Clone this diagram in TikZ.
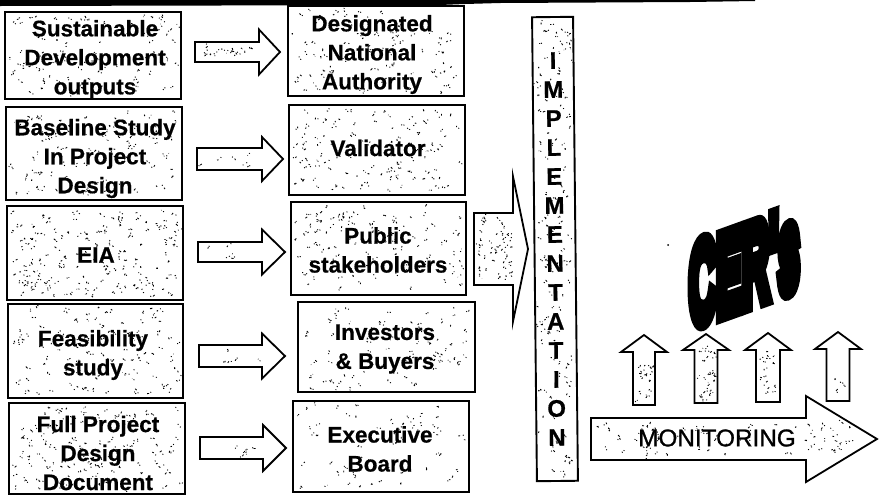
\documentclass[tikz,border=0pt]{standalone}
\usepackage{fontspec}
\usepackage{graphicx}
\setmainfont{Liberation Sans}
\newfontfamily\blobfont[FakeBold=16]{Liberation Sans Bold}
\newfontfamily\monfont[FakeBold=1]{Liberation Sans}
\newfontfamily\lblfont[FakeBold=0.6]{Liberation Sans Bold}
\tikzset{
  boxnode/.style={draw=black,line width=1.9pt,inner sep=0pt,outer sep=0pt},
  labelnode/.style={inner sep=0pt,outer sep=0pt,align=center,font=\lblfont\fontsize{22.5}{29}\selectfont},
  blockarrow/.style={draw=black,line width=1.8pt,line join=miter,miter limit=10},
  speck/.style={line width=0.85pt,black}
}
\newcommand\speckle[5]{%
  \foreach \k in {1,...,#5}{%
    \pgfmathsetmacro\sx{#1+rnd*(#3-(#1))}%
    \pgfmathsetmacro\sy{#2+rnd*(#4-(#2))}%
    \pgfmathsetmacro\dx{rand*1.8}%
    \pgfmathsetmacro\dy{rand*1.8}%
    \pgfmathsetmacro\ex{rand*3}%
    \pgfmathsetmacro\ey{rand*3}%
    \draw[speck] (\sx,\sy) -- ++(\dx,\dy) ++(\ex,\ey) -- ++(.9,.5);%
  }}
% name, x1,y1,x2,y2, speckle count
\newcommand\specbox[6]{%
  \speckle{#2+4}{#3+4}{#4-4}{#5-4}{#6}%
  \pgfmathsetmacro\bw{#4-(#2)}\pgfmathsetmacro\bh{#5-(#3)}%
  \node[boxnode,minimum width=\bw pt,minimum height=\bh pt] (#1) at ({(#2+#4)/2},{(#3+#5)/2}) {};}
% horizontal block arrow: tail x, centre y, head base x, tip x, shaft half-width, head half-width
\newcommand\harrow[6]{%
  \draw[blockarrow] (#1,#2-#5) -- (#3,#2-#5) -- (#3,#2-#6) -- (#4,#2) -- (#3,#2+#6) -- (#3,#2+#5) -- (#1,#2+#5) -- cycle;}
% up block arrow: centre x, tail y, head base y, tip y, shaft half-width, head half-width
\newcommand\uarrow[6]{%
  \draw[blockarrow] (#1-#5,#2) -- (#1-#5,#3) -- (#1-#6,#3) -- (#1,#4) -- (#1+#6,#3) -- (#1+#5,#3) -- (#1+#5,#2) -- cycle;}
\begin{document}
\begin{tikzpicture}[x=1pt,y=-1pt]
\pgfmathsetseed{4242}
\useasboundingbox (0,0) rectangle (884,496);
\fill[white] (0,0) rectangle (884,496);
\fill[black] (0,0) -- (755,0) -- (755,1) -- (690,2) -- (500,3) -- (465,4) -- (440,5) -- (0,6) -- cycle;

% left column
\specbox{L1}{5}{12}{181}{99}{95}
\specbox{L2}{6}{107}{182}{200}{95}
\specbox{L3}{7}{206}{183}{300}{170}
\specbox{L4}{8}{304}{183}{398}{110}
\specbox{L5}{9}{403}{185}{494}{135}
\node[labelnode] (L1t) at (95,59.5) {Sustainable\\Development\\outputs};
\node[labelnode] (L2t) at (95,158.5) {Baseline Study\\In Project\\Design};
\node[labelnode] (L3t) at (96,255) {EIA};
\node[labelnode] (L4t) at (93,355) {Feasibility\\study};
\node[labelnode] (L5t) at (98,453) {Full Project\\Design\\Document};

% right column
\specbox{R1}{288}{6}{464}{96}{95}
\specbox{R2}{289}{105}{465}{195}{115}
\specbox{R3}{291}{202}{466}{295}{115}
\specbox{R4}{298}{302}{475}{392}{80}
\specbox{R5}{293}{401}{469}{492}{60}
\node[labelnode] (R1t) at (372,54.5) {Designated\\National\\Authority};
\node[labelnode] (R2t) at (378,148) {Validator};
\node[labelnode] (R3t) at (378,250) {Public\\stakeholders};
\node[labelnode] (R4t) at (385,349) {Investors\\\& Buyers};
\node[labelnode] (R5t) at (380,449) {Executive\\Board};

% small block arrows
\speckle{199}{46}{258}{58}{18}
\speckle{201}{152}{261}{166}{6}
\speckle{202}{246}{261}{258}{5}
\speckle{203}{349}{261}{363}{5}
\speckle{204}{441}{262}{455}{6}
\harrow{195}{52}{259}{280}{10}{22.5}
\harrow{197}{159}{262}{283}{11}{22}
\harrow{198}{252}{262}{285}{10}{22.5}
\harrow{199}{356}{262}{285}{11}{22.5}
\harrow{200}{448}{263}{286}{11}{23}

% large arrow to the implementation bar
\speckle{478}{218}{513}{280}{45}
\harrow{474}{249}{513}{528}{36}{72.5}

% implementation bar
\speckle{538}{22}{572}{476}{130}
\node[boxnode,rotate=0.6,minimum width=41pt,minimum height=464pt,align=center,font=\lblfont\fontsize{24}{29}\selectfont] (Impl) at (555,249) {I\\M\\P\\L\\E\\M\\E\\N\\T\\A\\T\\I\\O\\N};

% up arrows
\speckle{637}{365}{652}{402}{16}
\speckle{699}{345}{715}{400}{26}
\speckle{760}{350}{777}{398}{15}
\speckle{832}{375}{846}{396}{4}
\uarrow{644}{405}{352}{335}{11}{23}
\uarrow{706}{403}{350}{334}{11.5}{23}
\uarrow{768}{402}{350}{333}{12}{23}
\uarrow{838}{401}{349}{332}{11.5}{23}

% monitoring arrow
\speckle{596}{423}{805}{455}{45}
\speckle{806}{420}{850}{450}{22}
\harrow{591}{439}{806}{877}{21}{43}
\node[inner sep=0pt,outer sep=0pt,font=\monfont\fontsize{24.3}{29}\selectfont] (Mont) at (717,438) {MONITORING};

% CER's
\begin{scope}[shift={(689,326)},yslant=0.36]
\node[transform shape,anchor=base west,inner sep=0pt,outer sep=0pt,font=\blobfont\fontsize{100}{100}\selectfont] (Cer) at (0,0)
 {\scalebox{.38}[1.14]{C}\scalebox{.38}[1.12]{E}\scalebox{.38}[1.12]{R}\scalebox{.38}[1.15]{'}\scalebox{.38}[1.16]{s}};
\end{scope}
\fill[black] (668,245) circle (1pt);
\end{tikzpicture}
\end{document}
